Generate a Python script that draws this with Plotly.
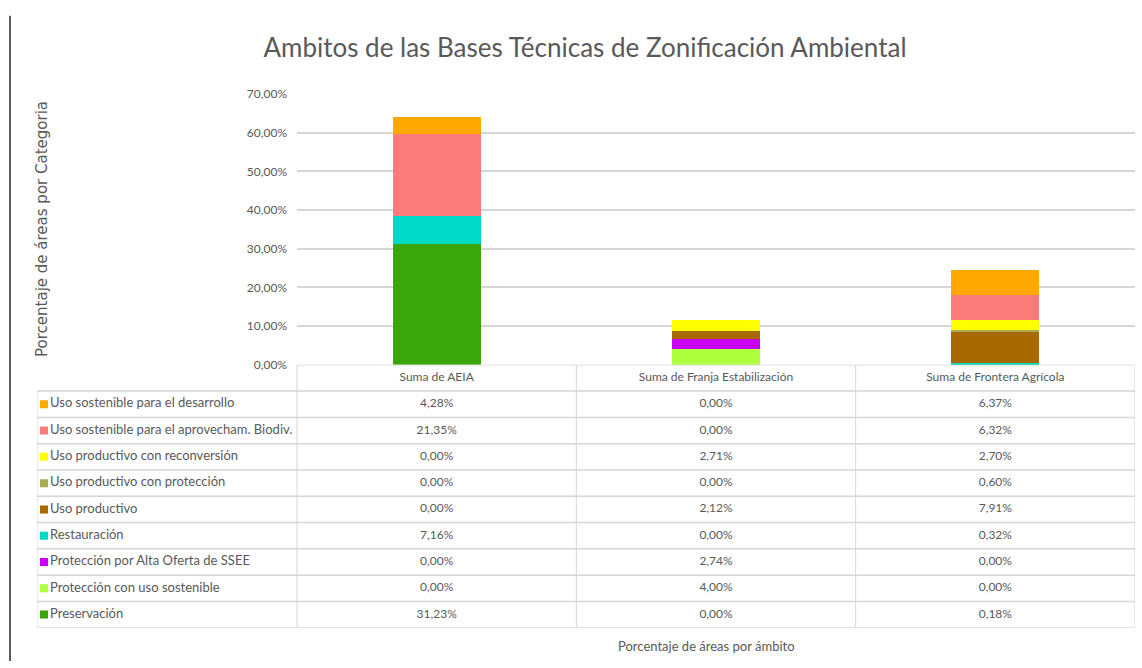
import plotly.graph_objects as go

# Ámbitos (columnas) y categorías de zonificación
ambitos = ["Suma de AEIA", "Suma de Franja Estabilización", "Suma de Frontera Agrícola"]

# Categorías en orden de apilado (de abajo hacia arriba)
categorias = [
    "Preservación",
    "Protección con uso sostenible",
    "Protección por Alta Oferta de SSEE",
    "Restauración",
    "Uso productivo",
    "Uso productivo con protección",
    "Uso productivo con reconversión",
    "Uso sostenible para el aprovecham. Biodiv.",
    "Uso sostenible para el desarrollo",
]
colores = [
    "#3AA60A",
    "#AEFF3E",
    "#C800F8",
    "#00D9C6",
    "#A86A00",
    "#A9AC50",
    "#FFFF00",
    "#FA7B7A",
    "#FFA800",
]

# Porcentaje de cada categoría por ámbito (AEIA, Franja, Frontera)
preservacion = [31.23, 0.00, 0.18]
proteccion_uso_sostenible = [0.00, 4.00, 0.00]
proteccion_alta_oferta = [0.00, 2.74, 0.00]
restauracion = [7.16, 0.00, 0.32]
uso_productivo = [0.00, 2.12, 7.91]
uso_productivo_proteccion = [0.00, 0.00, 0.60]
uso_productivo_reconversion = [0.00, 2.71, 2.70]
uso_sostenible_aprovecham = [21.35, 0.00, 6.32]
uso_sostenible_desarrollo = [4.28, 0.00, 6.37]

valores = [
    preservacion,
    proteccion_uso_sostenible,
    proteccion_alta_oferta,
    restauracion,
    uso_productivo,
    uso_productivo_proteccion,
    uso_productivo_reconversion,
    uso_sostenible_aprovecham,
    uso_sostenible_desarrollo,
]

y_ticks = [0, 10, 20, 30, 40, 50, 60, 70]

W, H = 1142, 668
FONT = "Lato, sans-serif"
GRIS = "#595959"
LINEA = "#d6d6d6"

# Geometría (px) del área de barras y de la tabla de datos
x_tabla_izq, x_plot_izq, x_plot_der = 37, 297, 1135
y_cero, y_tope, y_tabla_fondo = 365, 88, 634


def fx(px):
    return px / W


def fy(py):
    return 1 - py / H


def fmt(v):
    return f"{v:.2f}".replace(".", ",") + "%"


fig = go.Figure()

# Barras apiladas
for nombre, color, vals in zip(categorias, colores, valores):
    fig.add_trace(go.Bar(
        name=nombre,
        x=ambitos,
        y=vals,
        marker=dict(color=color, line=dict(width=0)),
        showlegend=False,
        xaxis="x",
        yaxis="y",
        hoverinfo="x+y+name",
    ))

# Tabla de datos en un segundo par de ejes: una unidad x = una columna,
# una unidad y = una fila (0 = encabezado, 1..9 = series)
ancho_col = (x_plot_der - x_plot_izq) / len(ambitos)
x_leyenda_izq = -0.5 - (x_plot_izq - x_tabla_izq) / ancho_col
n_filas = len(categorias)
orden = list(range(n_filas))[::-1]  # la serie superior va primero
filas = list(range(1, n_filas + 1))

# Encabezado de columnas
fig.add_trace(go.Scatter(
    x=list(range(len(ambitos))), y=[0] * len(ambitos),
    text=ambitos, mode="text", textposition="middle center",
    textfont=dict(family=FONT, size=12, color=GRIS),
    xaxis="x2", yaxis="y2", showlegend=False, hoverinfo="skip",
))

# Valores por ámbito
for j in range(len(ambitos)):
    fig.add_trace(go.Scatter(
        x=[j] * n_filas, y=filas,
        text=[fmt(valores[i][j]) for i in orden],
        mode="text", textposition="middle center",
        textfont=dict(family=FONT, size=12, color=GRIS),
        xaxis="x2", yaxis="y2", showlegend=False, hoverinfo="skip",
    ))

# Claves de leyenda con su nombre
fig.add_trace(go.Scatter(
    x=[x_leyenda_izq + 7 / ancho_col] * n_filas, y=filas,
    text=[categorias[i] for i in orden],
    mode="markers+text", textposition="middle right",
    marker=dict(symbol="square", size=8, color=[colores[i] for i in orden]),
    textfont=dict(family=FONT, size=13, color=GRIS),
    xaxis="x2", yaxis="y2", showlegend=False, hoverinfo="skip",
))

# Líneas de la tabla
lineas = []
for k in range(1, n_filas + 2):
    lineas.append(dict(type="line", xref="x2", yref="y2",
                       x0=x_leyenda_izq, x1=len(ambitos) - 0.5, y0=k - 0.5, y1=k - 0.5,
                       line=dict(color=LINEA, width=1.5)))
lineas.append(dict(type="line", xref="x2", yref="y2",
                   x0=-0.5, x1=len(ambitos) - 0.5, y0=-0.5, y1=-0.5,
                   line=dict(color=LINEA, width=1.5)))
lineas.append(dict(type="line", xref="x2", yref="y2",
                   x0=x_leyenda_izq, x1=x_leyenda_izq, y0=0.5, y1=n_filas + 0.5,
                   line=dict(color=LINEA, width=1)))
for j in range(len(ambitos) + 1):
    lineas.append(dict(type="line", xref="x2", yref="y2",
                       x0=j - 0.5, x1=j - 0.5, y0=-0.5, y1=n_filas + 0.5,
                       line=dict(color=LINEA, width=1)))

# Borde izquierdo de la página
lineas.append(dict(type="line", xref="paper", yref="paper",
                   x0=fx(10), x1=fx(10), y0=fy(8), y1=0,
                   line=dict(color="#222222", width=1.5)))

fig.update_layout(
    width=W,
    height=H,
    margin=dict(l=0, r=0, t=0, b=0),
    paper_bgcolor="white",
    plot_bgcolor="white",
    barmode="stack",
    bargap=0.685,
    font=dict(family=FONT, color=GRIS),
    title=dict(
        text="Ambitos de las Bases Técnicas de Zonificación Ambiental",
        x=fx(585), xanchor="center",
        y=fy(41), yanchor="middle",
        xref="paper", yref="paper",
        font=dict(family=FONT, size=26, color=GRIS),
    ),
    xaxis=dict(
        domain=[fx(x_plot_izq), fx(x_plot_der)],
        showticklabels=False,
        showgrid=False,
        showline=False,
        zeroline=False,
        ticks="",
    ),
    yaxis=dict(
        domain=[fy(y_cero), fy(y_tope)],
        range=[0, 70],
        tickmode="array",
        tickvals=y_ticks,
        ticktext=[fmt(v) for v in y_ticks],
        showgrid=True,
        gridcolor=LINEA,
        gridwidth=1.5,
        zeroline=False,
        showline=False,
        ticks="",
        ticklabelstandoff=9,
        tickfont=dict(family=FONT, size=12, color=GRIS),
    ),
    xaxis2=dict(
        domain=[fx(x_tabla_izq), fx(x_plot_der)],
        range=[x_leyenda_izq, len(ambitos) - 0.5],
        visible=False,
        fixedrange=True,
    ),
    yaxis2=dict(
        domain=[fy(y_tabla_fondo), fy(y_cero)],
        range=[n_filas + 0.5, -0.5],
        visible=False,
        fixedrange=True,
    ),
    annotations=[
        dict(
            text="Porcentaje de áreas por Categoria",
            x=fx(42), y=fy(226), xref="paper", yref="paper",
            textangle=-90, showarrow=False,
            xanchor="center", yanchor="middle",
            font=dict(family="DejaVu Sans, sans-serif", size=15, color=GRIS),
        ),
        dict(
            text="Porcentaje de áreas por ámbito",
            x=fx(706), y=fy(653), xref="paper", yref="paper",
            showarrow=False, xanchor="center", yanchor="middle",
            font=dict(family=FONT, size=13, color=GRIS),
        ),
    ],
    shapes=lineas,
)

fig.write_html("out.html")
